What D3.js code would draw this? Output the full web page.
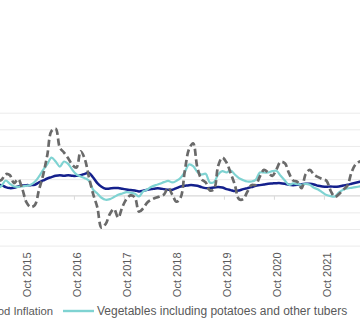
<!DOCTYPE html>
<html>
<head>
<meta charset="utf-8">
<script src="https://cdn.jsdelivr.net/npm/d3@7"></script>
<style>
  html, body { margin: 0; padding: 0; background: #ffffff; }
  svg { display: block; }
  text { font-family: "Liberation Sans", Arial, sans-serif; fill: #595959; }
</style>
</head>
<body>
<svg id="chart" width="360" height="326"></svg>
<script>
// Monthly series, Jan 2015 onwards (annual % change)
const startMonth = new Date(2015, 0, 1);
const tickLabels = ["Oct 2015", "Oct 2016", "Oct 2017", "Oct 2018", "Oct 2019", "Oct 2020", "Oct 2021"];
const yTicks = [-15, -10, -5, 0, 5, 10, 15, 20, 25];

const foodInflation = [
  3.6, 3.4, 3.3, 3.2, 2.6, 2.3, 2.4, 2.8, 3.1, 3.2,
  3.2, 3.3, 4.0, 4.6, 5.2, 5.6, 6.0, 6.2, 6.0, 6.2,
  6.0, 6.0, 6.2, 6.6, 6.9, 5.5, 3.8, 2.7, 2.1, 2.2,
  2.3, 2.3, 2.1, 1.9, 1.7, 1.6, 1.3, 1.5, 1.8, 2.0,
  2.2, 2.2, 2.0, 1.8, 1.8, 2.3, 2.8, 3.0, 3.2, 3.2,
  3.0, 2.6, 2.3, 2.3, 2.5, 2.6, 2.5, 2.0, 1.7, 1.4,
  1.6, 2.0, 2.3, 2.6, 3.0, 3.2, 3.4, 3.6, 3.7, 3.8,
  3.8, 3.6, 3.3, 3.2, 3.3, 3.5, 3.6, 3.6, 3.4, 3.0,
  2.8, 2.7, 2.8, 2.7, 2.8, 3.1, 3.3, 3.6, 3.9, 4.2,
  4.5, 4.8
];

const vegetables = [
  3.0, 2.5, 2.3, 3.0, 4.6, 3.6, 2.8, 2.7, 2.8, 3.0,
  3.3, 4.2, 5.8, 7.8, 9.5, 11.5, 10.3, 8.8, 10.3, 9.6,
  7.8, 6.4, 5.8, 5.3, 4.5, 1.8, 0.7, -0.6, -1.2, -1.0,
  -0.4, 0.3, 0.7, 1.1, 0.9, 0.6, -0.2, 1.3, 1.9, 2.7,
  3.2, 3.6, 4.1, 4.5, 4.0, 4.5, 5.4, 7.2, 9.4, 8.9,
  7.2, 6.4, 6.6, 4.0, 4.1, 6.4, 7.4, 7.0, 7.6, 6.4,
  5.3, 4.7, 4.3, 4.3, 4.8, 7.0, 7.0, 7.0, 7.4, 7.5,
  6.0, 4.6, 3.3, 3.7, 3.5, 3.3, 3.6, 3.3, 2.4, 1.9,
  1.0, 0.2, -0.1, -0.2, 1.0, 1.8, 2.2, 2.4, 2.6, 2.8,
  3.0, 3.2
];

const thirdSeries = [
  5.0, 4.0, 4.4, 4.8, 6.5, 6.2, 3.8, 5.0, 2.0, -2.0,
  -3.4, -2.8, 1.8, 6.3, 12.3, 19.5, 20.2, 14.5, 13.0, 11.3,
  9.3, 8.5, 13.4, 11.0, 5.5, 0.5, -3.5, -9.6, -8.5, -5.5,
  -4.0, -6.6, -3.4, -1.0, 0.1, -0.5, -4.8, -3.8, -2.0, -1.2,
  -0.6, -0.2, 0.4, 2.4, 0.3, -1.8, -0.5, 7.5, 14.0, 15.8,
  8.5, 5.0, 4.0, 1.6, 2.0, 9.0, 11.5, 10.0, 6.8, 3.3,
  -1.0, -1.0, 1.2, 3.2, 3.3, 5.8, 7.8, 7.0, 6.0, 8.0,
  10.2, 9.8, 6.8, 4.6, 4.2, 2.3, 6.5, 7.8, 6.3, 5.6,
  5.0, 4.5, 1.5, -0.3, 0.5, 1.8, 3.0, 7.0, 9.5, 10.3,
  10.5, 10.0
];

const seriesNames = ["Food Inflation", "Vegetables including potatoes and other tubers"];
const seriesColors = ["#14208c", "#7fd3d2", "#6a6a6a"];

const months = d3.range(foodInflation.length).map(i => d3.timeMonth.offset(startMonth, i));

const svg = d3.select("#chart");

// Plot geometry: the chart is wider than the window, so part of it falls outside
const plotTop = 112.7, plotBottom = 245.6;
const monthW = 50 / 12;
const xFirst = 76.5 - 21 * monthW;          // centre of Jan 2015
// category centres by month index, evenly spaced
const xi = d3.scaleLinear()
  .domain([0, months.length - 1])
  .range([xFirst, xFirst + (months.length - 1) * monthW]);
const y = d3.scaleLinear().domain([-15, 25]).range([plotBottom, plotTop]);

// Horizontal gridlines
const grid = d3.axisLeft(y).tickValues(yTicks).tickSize(-500).tickFormat("");
svg.append("g")
  .attr("transform", "translate(420,0)")
  .call(grid)
  .call(g => g.select(".domain").remove())
  .call(g => g.selectAll("line").attr("stroke", "#ebebeb").attr("stroke-width", 1).attr("x1", -460).attr("x2", 40));

// Zero line with yearly category ticks
const zeroY = y(0);
svg.append("line")
  .attr("x1", -20).attr("x2", 380)
  .attr("y1", zeroY).attr("y2", zeroY)
  .attr("stroke", "#d9d9d9").attr("stroke-width", 1);

const labelIdx = tickLabels.map(lbl => {
  const d = d3.timeParse("%b %Y")(lbl);
  return d3.timeMonth.count(startMonth, d);
});

svg.append("g").selectAll("line")
  .data(labelIdx)
  .join("line")
  .attr("x1", i => xi(i) - monthW / 2)
  .attr("x2", i => xi(i) - monthW / 2)
  .attr("y1", zeroY).attr("y2", zeroY + 4)
  .attr("stroke", "#d9d9d9").attr("stroke-width", 1);

// Rotated category labels below the plot
svg.append("g").selectAll("text")
  .data(tickLabels)
  .join("text")
  .attr("transform", (d, k) => `translate(${xi(labelIdx[k]) + 0.6},252.5) rotate(-90)`)
  .attr("text-anchor", "end")
  .attr("dy", "0.36em")
  .attr("font-size", 11)
  .text(d => d);

// Series lines
const line = d3.line()
  .x((d, i) => xi(i))
  .y(d => y(d))
  .curve(d3.curveCatmullRom.alpha(0.5));

svg.append("path")
  .datum(foodInflation)
  .attr("d", line)
  .attr("fill", "none")
  .attr("stroke", seriesColors[0])
  .attr("stroke-width", 2.5)
  .attr("stroke-linejoin", "round");

svg.append("path")
  .datum(vegetables)
  .attr("d", line)
  .attr("fill", "none")
  .attr("stroke", seriesColors[1])
  .attr("stroke-width", 2.2)
  .attr("stroke-linejoin", "round");

svg.append("path")
  .datum(thirdSeries)
  .attr("d", line)
  .attr("fill", "none")
  .attr("stroke", seriesColors[2])
  .attr("stroke-width", 2.7)
  .attr("stroke-dasharray", "7,3.5");

// Legend
const legendY = 311;
const lg = svg.append("g").attr("font-size", 12);

const foodText = lg.append("text")
  .attr("x", 53).attr("y", legendY).attr("dy", "0.35em")
  .attr("text-anchor", "end")
  .attr("font-size", 11.3)
  .text(seriesNames[0]);
const foodW = foodText.node().getComputedTextLength();
lg.append("line")
  .attr("x1", 53 - foodW - 34).attr("x2", 53 - foodW - 3)
  .attr("y1", legendY).attr("y2", legendY)
  .attr("stroke", seriesColors[0]).attr("stroke-width", 2.5);

lg.append("line")
  .attr("x1", 63).attr("x2", 94)
  .attr("y1", legendY).attr("y2", legendY)
  .attr("stroke", seriesColors[1]).attr("stroke-width", 2.4);
const vegText = lg.append("text")
  .attr("x", 97).attr("y", legendY).attr("dy", "0.35em")
  .text(seriesNames[1]);
const vegW = vegText.node().getComputedTextLength();

lg.append("line")
  .attr("x1", 97 + vegW + 17).attr("x2", 97 + vegW + 48)
  .attr("y1", legendY).attr("y2", legendY)
  .attr("stroke", seriesColors[2]).attr("stroke-width", 2.7)
  .attr("stroke-dasharray", "7,3.5");
</script>
</body>
</html>
